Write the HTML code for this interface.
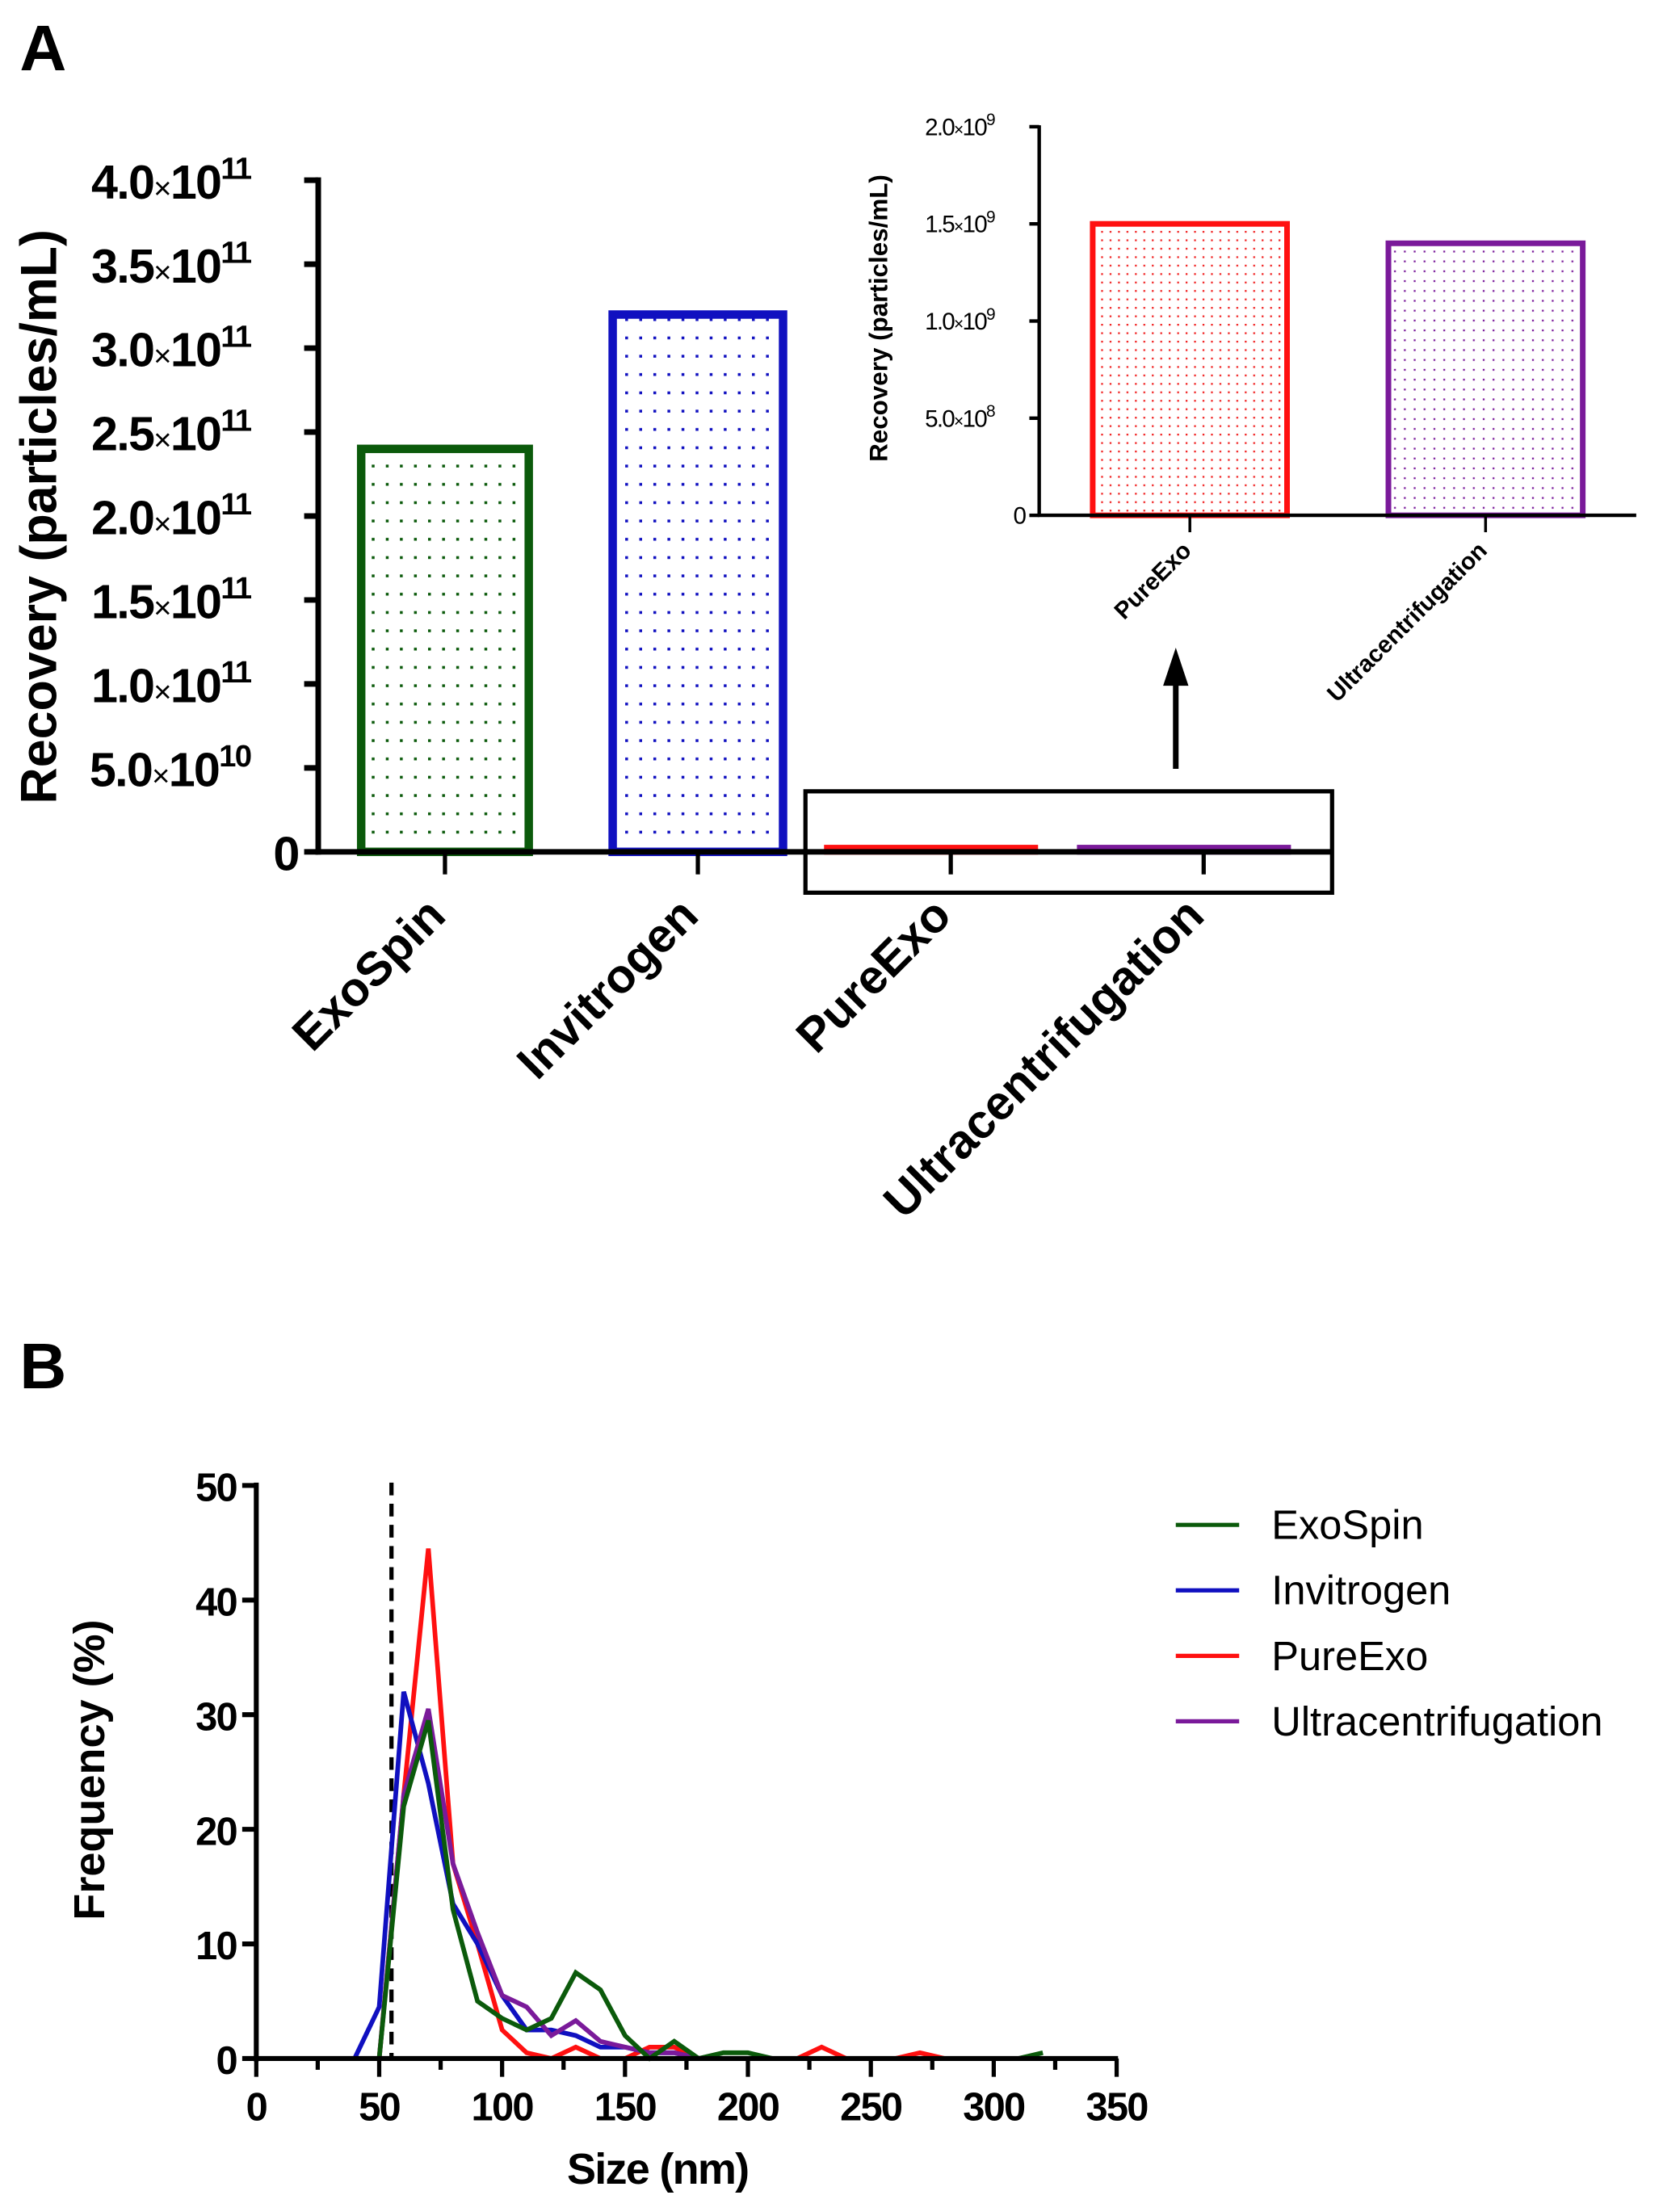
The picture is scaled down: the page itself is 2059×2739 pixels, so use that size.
<!DOCTYPE html>
<html><head><meta charset="utf-8"><style>
html,body{margin:0;padding:0;background:#fff;}
svg{display:block;}
text{font-family:"Liberation Sans",sans-serif;}
.nar{font-family:"Liberation Sans Narrow","Liberation Sans",sans-serif;font-weight:bold;letter-spacing:-1px;}
</style></head><body>
<svg id="fig" xmlns="http://www.w3.org/2000/svg" width="2059" height="2739" viewBox="0 0 1181 1571" preserveAspectRatio="none">
<defs>
<pattern id="pg" width="10" height="13" patternUnits="userSpaceOnUse"><rect x="4" y="5" width="2" height="2" fill="#0b5a0b"/></pattern>
<pattern id="pb" width="10" height="13" patternUnits="userSpaceOnUse"><rect x="4" y="5" width="2" height="2" fill="#1010c0"/></pattern>
<pattern id="pr" width="6" height="6" patternUnits="userSpaceOnUse"><rect x="2" y="2" width="1.3" height="1.3" fill="#f02020"/></pattern>
<pattern id="pp" width="7" height="7" patternUnits="userSpaceOnUse"><rect x="3" y="3" width="1.3" height="1.3" fill="#7a1a9a"/></pattern>
</defs>
<text x="14" y="50" font-size="46" font-weight="bold">A</text>
<text x="14" y="986" font-size="46" font-weight="bold">B</text>
<g id="gA"></g>
<g id="gI"></g>
<g id="gB"></g>
</svg>
<script>
// Panel A data
const catsA = ["ExoSpin","Invitrogen","PureExo","Ultracentrifugation"];
const valsA = [2.4e11, 3.2e11, 1.5e9, 1.4e9];
const ticksA = [0,0.5e11,1.0e11,1.5e11,2.0e11,2.5e11,3.0e11,3.5e11,4.0e11];
const tickLabA = ["0","5.0","1.0","1.5","2.0","2.5","3.0","3.5","4.0"];
const tickExpA = ["","10","11","11","11","11","11","11","11"];
// Inset data
const catsI = ["PureExo","Ultracentrifugation"];
const valsI = [1.5e9, 1.4e9];
const ticksI = [0,5e8,1e9,1.5e9,2e9];
const tickLabI = ["0","5.0","1.0","1.5","2.0"];
const tickExpI = ["","8","9","9","9"];
// Panel B data
const sizes = [0,10,20,30,40,50,60,70,80,90,100,110,120,130,140,150,160,170,180,190,200,210,220,230,240,250,260,270,280,290,300,310,320];
const exoSpin = [0,0,0,0,0,0,22,29.5,13,5,3.5,2.5,3.5,7.5,6,2,0,1.5,0,0.5,0.5,0,0,0,0,0,0,0,0,0,0,0,0.5];
const invitrogen = [0,0,0,0,0,4.5,32,24,13.5,10,5.5,2.5,2.5,2,1,1,0.5,0.5,0,0,0,0,0,0,0,0,0,0,0,0,0,0,0];
const pureExo = [0,0,0,0,0,0,23,44.5,17,10,2.5,0.5,0,1,0,0,1,1,0,0,0,0,0,1,0,0,0,0.5,0,0,0,0,0];
const ultra = [0,0,0,0,0,0,23,30.5,17,11,5.5,4.5,2,3.3,1.5,1,0.5,0.5,0,0,0,0,0,0,0,0,0,0,0,0,0,0,0];
const ticksBx = [0,50,100,150,200,250,300,350];
const ticksBy = [0,10,20,30,40,50];
const seriesNames = ["ExoSpin","Invitrogen","PureExo","Ultracentrifugation"];

const NS="http://www.w3.org/2000/svg";
function mk(p,tag,at,txt){const e=document.createElementNS(NS,tag);for(const k in at)e.setAttribute(k,at[k]);if(txt!=null)e.textContent=txt;p.appendChild(e);return e;}
const cols=["#0b5a0b","#1010c0","#ff1010","#7a1a9a"];
const pats=["url(#pg)","url(#pb)","url(#pr)","url(#pp)"];

// ---- Panel A
const gA=document.getElementById('gA');
const yA=v=>605-(v/4e11)*477;
const xA=i=>316+i*179.6;
const wA=[119,121,148,148];
const offA=[0,0,-14,-14];
catsA.forEach((c,i)=>{
  const y=Math.min(yA(valsA[i]),602);
  const r=mk(gA,'rect',{x:xA(i)+offA[i]-wA[i]/2,y:y,width:wA[i],height:605-y,fill:pats[i],stroke:cols[i],'stroke-width':i<2?6:4});
  
  
  const t=mk(gA,'line',{x1:xA(i),y1:605,x2:xA(i),y2:621,stroke:'#000','stroke-width':3});
  
  
  const l=mk(gA,'text',{x:0,y:0,'font-size':34,'font-weight':'bold','text-anchor':'end',transform:`translate(${xA(i)+2},${652}) rotate(-45)`},c);
  
  
});
mk(gA,'line',{x1:226,y1:126,x2:226,y2:607,stroke:'#000','stroke-width':4});
mk(gA,'line',{x1:224,y1:605,x2:946,y2:605,stroke:'#000','stroke-width':4});
ticksA.forEach((v,i)=>{
  mk(gA,'line',{x1:216,y1:yA(v),x2:226,y2:yA(v),stroke:'#000','stroke-width':4});
  const t=mk(gA,'text',{x:i==0?212:178,y:yA(v)+13,'font-size':34,'text-anchor':'end',class:'nar'});
  
  
  if(i==0){t.textContent="0";}
  else{
    mk(t,'tspan',{},tickLabA[i]);
    mk(t,'tspan',{'font-size':22,'font-weight':'normal'},"×");
    mk(t,'tspan',{},"10");
    mk(t,'tspan',{'font-size':22,dy:-14},tickExpA[i]);
  }
});
const yt=mk(gA,'text',{x:0,y:0,'font-size':36,'font-weight':'bold','text-anchor':'middle',transform:'translate(40,367) rotate(-90)'},'Recovery (particles/mL)');


const box=mk(gA,'rect',{x:572,y:562,width:374,height:72,fill:'none',stroke:'#000','stroke-width':3});


const ar=mk(gA,'g',{});


mk(ar,'line',{x1:835,y1:546,x2:835,y2:482,stroke:'#000','stroke-width':4});
mk(ar,'polygon',{points:'826,487 844,487 835,460',fill:'#000'});

// ---- Inset
const gI=document.getElementById('gI');
const yI=v=>366-(v/2e9)*276;
const xI=i=>845+i*210;
catsI.forEach((c,i)=>{
  const y=yI(valsI[i]);
  const r=mk(gI,'rect',{x:xI(i)-69,y:y,width:138,height:366-y,fill:pats[i+2],stroke:cols[i+2],'stroke-width':4});
  
  
  mk(gI,'line',{x1:xI(i),y1:366,x2:xI(i),y2:378,stroke:'#000','stroke-width':2});
  const l=mk(gI,'text',{x:0,y:0,'font-size':17,'font-weight':'bold','text-anchor':'end',transform:`translate(${xI(i)+2},${392}) rotate(-45)`},c);
  
  
});
mk(gI,'line',{x1:738,y1:89,x2:738,y2:367,stroke:'#000','stroke-width':2.5});
mk(gI,'line',{x1:737,y1:366,x2:1162,y2:366,stroke:'#000','stroke-width':2.5});
ticksI.forEach((v,i)=>{
  mk(gI,'line',{x1:731,y1:yI(v),x2:738,y2:yI(v),stroke:'#000','stroke-width':2.5});
  const t=mk(gI,'text',{x:i==0?728:706,y:yI(v)+6,'font-size':17,'text-anchor':'end',class:'nar'});
  
  
  t.style.fontWeight='normal';
  if(i==0)t.textContent="0";
  else{mk(t,'tspan',{},tickLabI[i]);mk(t,'tspan',{'font-size':12},"×");mk(t,'tspan',{},"10");mk(t,'tspan',{'font-size':12,dy:-7},tickExpI[i]);}
});
const yti=mk(gI,'text',{x:0,y:0,'font-size':18,'font-weight':'bold','text-anchor':'middle',transform:'translate(630,226) rotate(-90)'},'Recovery (particles/mL)');



// ---- Panel B
const gB=document.getElementById('gB');
const xB=v=>182+v/350*611;
const yB=v=>1462-v/50*407;
const allSeries=[exoSpin,invitrogen,pureExo,ultra];
const ref=mk(gB,'line',{x1:xB(55),y1:1053,x2:xB(55),y2:1462,stroke:'#000','stroke-width':3,'stroke-dasharray':'9,6'});


[2,1,3,0].forEach(si=>{
  const d=sizes.map((s,j)=>(j?'L':'M')+xB(s).toFixed(1)+','+yB(allSeries[si][j]).toFixed(1)).join(' ');
  const p=mk(gB,'path',{d:d,fill:'none',stroke:cols[si],'stroke-width':3.3,'stroke-linejoin':'miter'});
  
  
});
mk(gB,'line',{x1:182,y1:1053,x2:182,y2:1464,stroke:'#000','stroke-width':3.5});
mk(gB,'line',{x1:180,y1:1462,x2:794,y2:1462,stroke:'#000','stroke-width':3.5});
for(let v=0;v<=350;v+=25){
  const major=v%50==0;
  mk(gB,'line',{x1:xB(v),y1:1462,x2:xB(v),y2:major?1475:1470,stroke:'#000','stroke-width':3});
}
ticksBx.forEach(v=>{
  const t=mk(gB,'text',{x:xB(v),y:1506,'font-size':28,'text-anchor':'middle',class:'nar'},String(v));
  
  
});
ticksBy.forEach(v=>{
  mk(gB,'line',{x1:172,y1:yB(v),x2:182,y2:yB(v),stroke:'#000','stroke-width':3.5});
  const t=mk(gB,'text',{x:168,y:yB(v)+11,'font-size':28,'text-anchor':'end',class:'nar'},String(v));
  
  
});
const xt=mk(gB,'text',{x:467,y:1551,'font-size':31,'text-anchor':'middle',class:'nar'},'Size  (nm)');


const ytb=mk(gB,'text',{x:0,y:0,'font-size':31,'font-weight':'bold','text-anchor':'middle',transform:'translate(74,1257) rotate(-90)'},'Frequency (%)');


seriesNames.forEach((n,i)=>{
  const g=mk(gB,'g',{});
  
  
  const y=1083+i*46.5;
  mk(g,'line',{x1:835,y1:y,x2:880,y2:y,stroke:cols[i],'stroke-width':3});
  mk(g,'text',{x:903,y:y+10,'font-size':29},n);
});
</script>
</body></html>
